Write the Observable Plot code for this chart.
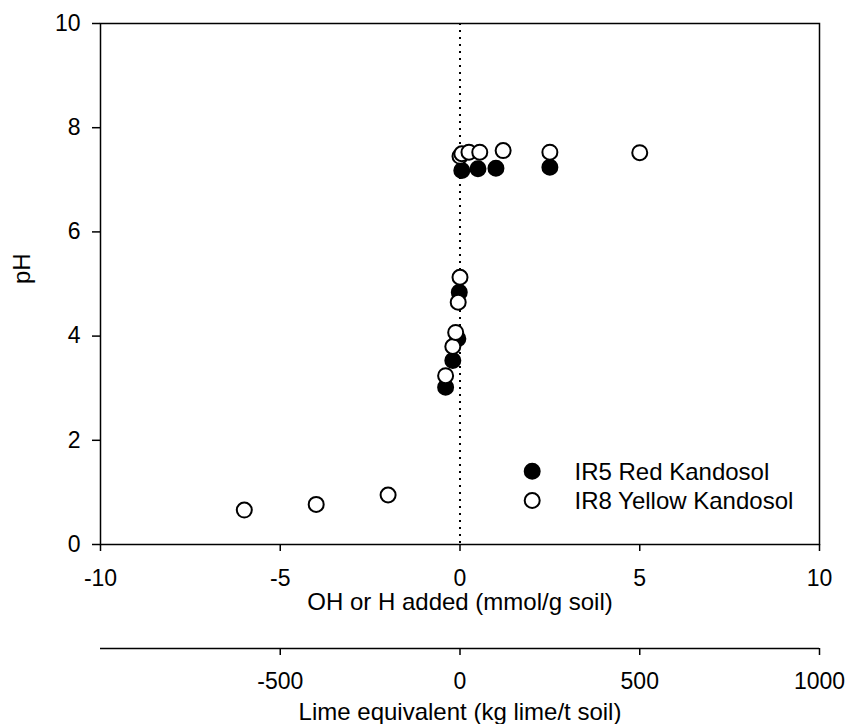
<!DOCTYPE html>
<html>
<head>
<meta charset="utf-8">
<script src="https://cdn.jsdelivr.net/npm/d3@7"></script>
<script src="https://cdn.jsdelivr.net/npm/@observablehq/plot@0.6"></script>
<style>
  body { margin: 0; background: white; }
  #chart svg { display: block; }
</style>
</head>
<body>
<div id="chart"></div>
<script>
// ---- data ----
const seriesNames = ["IR5 Red Kandosol", "IR8 Yellow Kandosol"];
const ir5X = [-0.4, -0.2, -0.06, -0.02, 0.05, 0.5, 1.0, 2.5];
const ir5Y = [3.02, 3.53, 3.95, 4.84, 7.18, 7.21, 7.22, 7.24];
const ir8X = [-6, -4, -2, -0.4, -0.2, -0.12, -0.05, 0, 0, 0.05, 0.25, 0.55, 1.2, 2.5, 5];
const ir8Y = [0.66, 0.77, 0.95, 3.24, 3.8, 4.07, 4.65, 5.13, 7.45, 7.5, 7.53, 7.53, 7.56, 7.53, 7.52];
const xTicks = [-10, -5, 0, 5, 10];
const yTicks = [0, 2, 4, 6, 8, 10];
const limeTicks = [-500, 0, 500, 1000];
const xTitle = "OH or H added (mmol/g soil)";
const yTitle = "pH";
const limeTitle = "Lime equivalent (kg lime/t soil)";

const ir5 = ir5X.map((x, i) => ({x, y: ir5Y[i]}));
const ir8 = ir8X.map((x, i) => ({x, y: ir8Y[i]}));

const font = "'Liberation Sans', Arial, Helvetica, sans-serif";
const fmt = d => String(d);
const R = 7.5;

const main = Plot.plot({
  width: 848,
  height: 625,
  marginLeft: 100,
  marginRight: 29,
  marginTop: 23,
  marginBottom: 81,
  style: {fontFamily: font, fontSize: "23px", background: "white", color: "black", overflow: "visible"},
  x: {domain: [-10, 10]},
  y: {domain: [0, 10]},
  marks: [
    Plot.ruleX([0], {stroke: "black", strokeWidth: 2, strokeDasharray: "2,5"}),
    Plot.frame({stroke: "black", strokeWidth: 1.5}),
    Plot.axisX({ticks: xTicks, tickFormat: fmt, tickSize: 7, tickPadding: 18, strokeWidth: 1.5, label: null, fontSize: 23}),
    Plot.axisY({ticks: yTicks, tickFormat: fmt, tickSize: 8, tickPadding: 12, strokeWidth: 1.5, label: null, fontSize: 23}),
    Plot.text([xTitle], {text: d => d, frameAnchor: "bottom", dy: 58, lineAnchor: "middle", fontSize: 24}),
    Plot.text([yTitle], {text: d => d, frameAnchor: "left", dx: -78, rotate: -90, lineAnchor: "middle", fontSize: 24}),
    Plot.dot(ir5, {x: "x", y: "y", r: R, fill: "black", stroke: "black", strokeWidth: 2}),
    Plot.dot(ir8, {x: "x", y: "y", r: R, fill: "white", stroke: "black", strokeWidth: 2}),
    // legend
    Plot.dot([seriesNames[0]], {frameAnchor: "top-left", dx: 431.7, dy: 447.7, r: R, fill: "black", stroke: "black", strokeWidth: 2}),
    Plot.dot([seriesNames[1]], {frameAnchor: "top-left", dx: 431.7, dy: 477, r: R, fill: "white", stroke: "black", strokeWidth: 2}),
    Plot.text([seriesNames[0]], {text: d => d, frameAnchor: "top-left", dx: 474, dy: 449, textAnchor: "start", lineAnchor: "middle", fontSize: 24}),
    Plot.text([seriesNames[1]], {text: d => d, frameAnchor: "top-left", dx: 474, dy: 478, textAnchor: "start", lineAnchor: "middle", fontSize: 24})
  ]
});

const lime = Plot.plot({
  width: 848,
  height: 99,
  marginLeft: 100,
  marginRight: 29,
  marginTop: 22,
  marginBottom: 76,
  style: {fontFamily: font, fontSize: "23px", background: "white", color: "black", overflow: "visible"},
  x: {domain: [-1000, 1000]},
  y: {domain: [0, 1], axis: null},
  marks: [
    Plot.ruleY([0], {stroke: "black", strokeWidth: 1.5}),
    Plot.axisX({ticks: limeTicks, tickFormat: fmt, tickSize: 7, tickPadding: 17, strokeWidth: 1.5, label: null, fontSize: 23}),
    Plot.text([limeTitle], {text: d => d, frameAnchor: "bottom", dy: 64, lineAnchor: "middle", fontSize: 24})
  ]
});

const el = document.getElementById("chart");
el.appendChild(main);
el.appendChild(lime);
</script>
</body>
</html>
